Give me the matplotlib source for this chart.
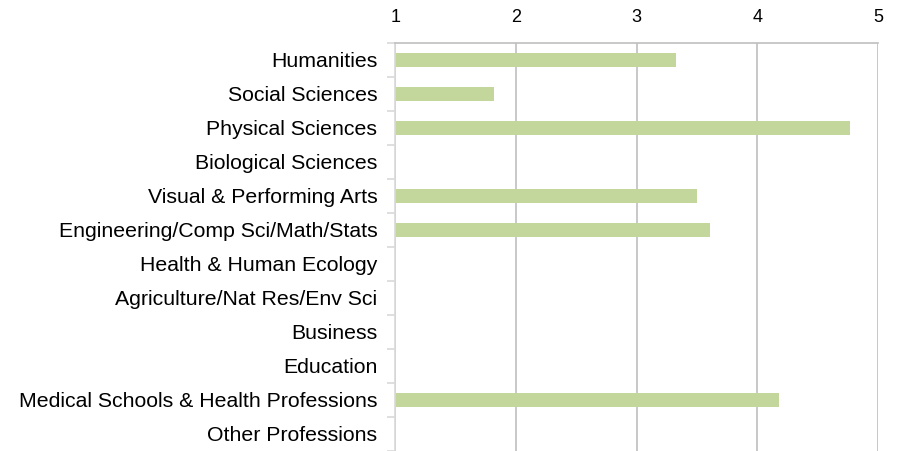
import matplotlib.pyplot as plt
import numpy as np

categories = ['Humanities', 'Social Sciences', 'Physical Sciences', 'Biological Sciences',
              'Visual & Performing Arts', 'Engineering/Comp Sci/Math/Stats',
              'Health & Human Ecology', 'Agriculture/Nat Res/Env Sci', 'Business',
              'Education', 'Medical Schools & Health Professions', 'Other Professions']
values = [3.33, 1.82, 4.77, np.nan, 3.50, 3.61, np.nan, np.nan, np.nan, np.nan, 4.18, np.nan]
xticks = [1, 2, 3, 4, 5]

plt.rcParams['font.family'] = ['Liberation Sans', 'DejaVu Sans']

fig = plt.figure(figsize=(9.02, 4.51), dpi=100)
ax = fig.add_axes([0.4383, 0.0, 0.5351, 0.9053])

y = np.arange(len(categories))
vals = np.array(values, dtype=float)
has = ~np.isnan(vals)
ax.barh(y[has], vals[has] - 1, left=1, height=0.4, color='#c3d69b', zorder=2)

ax.set_xlim(1, 5)
ax.set_ylim(len(categories) - 0.5, -0.5)
ax.set_xticks(xticks)
ax.set_xticklabels([str(t) for t in xticks], fontsize=13)
ax.xaxis.tick_top()
ax.tick_params(axis='x', length=0, pad=12)
ax.grid(axis='x', color='#bfbfbf', linewidth=1.2, zorder=0)

# category boundaries get the small ticks, labels sit in between
ax.set_yticks(np.arange(len(categories) + 1) - 0.5)
ax.set_yticklabels([])
ax.set_yticks(y, minor=True)
ax.set_yticklabels(categories, minor=True, fontsize=15.3)
ax.tick_params(axis='y', which='major', length=6, width=1.2, color='#d9d9d9')
ax.tick_params(axis='y', which='minor', length=0, pad=13)

for s in ['right', 'bottom']:
    ax.spines[s].set_visible(False)
ax.spines['top'].set_color('#bfbfbf')
ax.spines['top'].set_linewidth(1.2)
ax.spines['left'].set_color('#d9d9d9')
ax.spines['left'].set_linewidth(1.2)

plt.savefig('out.png', dpi=100)
